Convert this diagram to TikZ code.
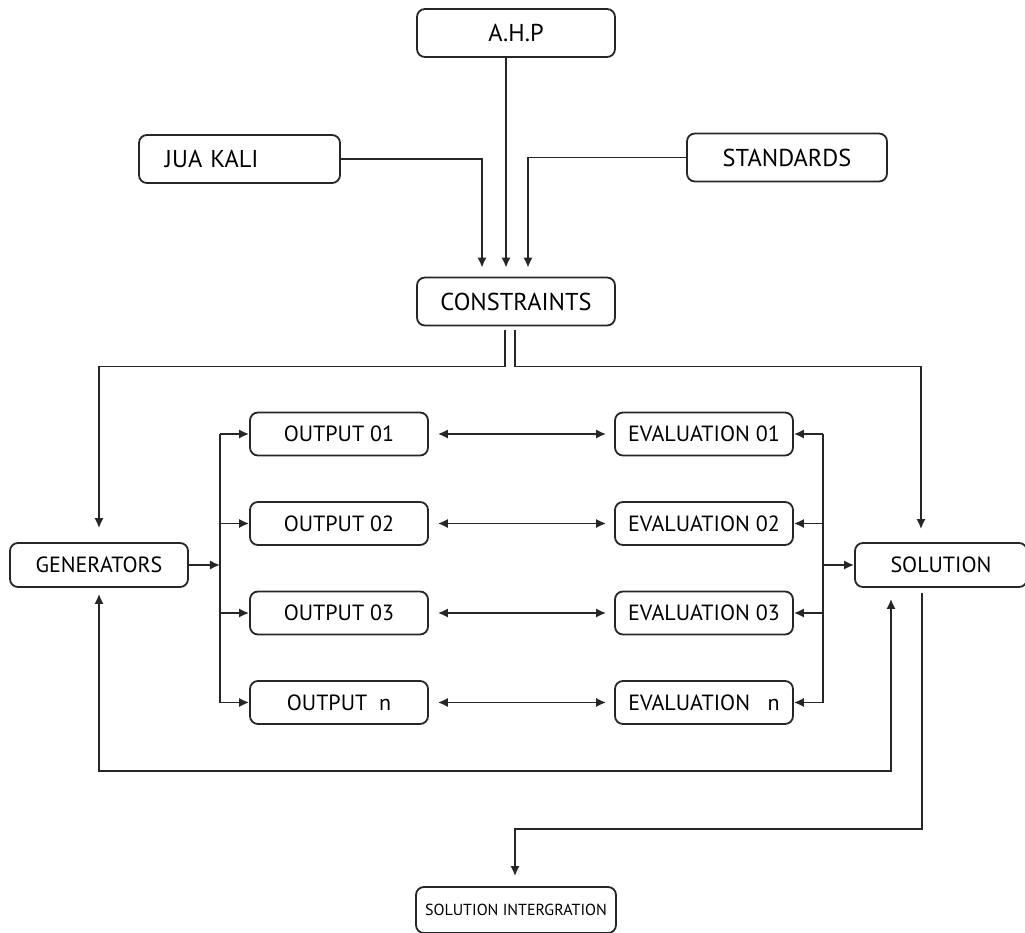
\documentclass[tikz,border=0pt]{standalone}
\usepackage{fontspec}
\setmainfont{PT Sans}
\usepackage{tikz}
\usetikzlibrary{arrows.meta}
\usetikzlibrary{positioning,calc}
\tikzset{
    bigbox/.style={
           rectangle,
           rounded corners=4pt,
           draw=black!85, line width=0.9pt,
           minimum width=99pt,
           minimum height=24pt,
           inner sep=0pt,
           font=\fontsize{12.2}{14}\selectfont,
           text centered,
           },
    midbox/.style={
           bigbox,
           minimum width=89pt,
           minimum height=21.5pt,
           font=\fontsize{11}{13}\selectfont,
           },
    tinybox/.style={
           bigbox,
           minimum width=100pt,
           minimum height=23pt,
           font=\fontsize{8}{9}\selectfont,
           },
}

\begin{document}
\begin{tikzpicture}
[
->,>={Latex[length=5pt,width=4.6pt]},
line width=0.9pt, draw=black!85
]

 % frame of the page
 \clip (-258pt,150.75pt) rectangle (254.5pt,-315.75pt);

 % CONSTRAINTS in the middle, the rest placed from it
 \node[bigbox] (CONS) at (0,0) {CONSTRAINTS};

 \node[bigbox,
 node distance=134.25pt,
 above of=CONS] (AHP)
 {A.H.P};

 \node[bigbox,
 node distance=71.25pt,
 above of=CONS,
 xshift=-138.25pt,
 text width=74.5pt, inner xsep=13pt, align=left] (JUA)
 {JUA KALI};

 \node[bigbox,
 minimum width=100pt,
 node distance=72pt,
 above of=CONS,
 xshift=135.5pt] (STAN)
 {STANDARDS};

 % outputs
 \node[midbox,
 node distance=66.25pt,
 below of=CONS,
 xshift=-88.5pt] (OUT1)
 {OUTPUT 01};
 \node[midbox, node distance=44.75pt, below of=OUT1] (OUT2) {OUTPUT 02};
 \node[midbox, node distance=44.75pt, below of=OUT2] (OUT3) {OUTPUT 03};
 \node[midbox, node distance=44.75pt, below of=OUT3] (OUTN) {OUTPUT\ \ n};

 % evaluations
 \node[midbox, node distance=182.5pt, right of=OUT1] (EVAL1) {EVALUATION 01};
 \node[midbox, node distance=182.5pt, right of=OUT2] (EVAL2) {EVALUATION 02};
 \node[midbox, node distance=182.5pt, right of=OUT3] (EVAL3) {EVALUATION 03};
 \node[midbox, node distance=182.5pt, right of=OUTN] (EVALN) {EVALUATION\ \ \ n};

 \node[midbox,
 minimum height=22pt,
 node distance=131.75pt,
 below of=CONS,
 xshift=-208.5pt] (GEN)
 {GENERATORS};

 \node[midbox,
 minimum width=86pt, minimum height=22pt,
 node distance=131.75pt,
 below of=CONS,
 xshift=212.5pt] (SOL)
 {SOLUTION};

 \node[tinybox,
 node distance=304.25pt,
 below of=CONS] (SOLINT)
 {SOLUTION INTERGRATION};

 % bus lines
 \coordinate (LBUS) at ($(GEN)+(60.5pt,0)$);
 \coordinate (RBUS) at ($(SOL)+(-59pt,0)$);

 % inputs of the constraints
 \draw ([xshift=-5pt]AHP.south) -- ([xshift=-5pt,yshift=4.5pt]CONS.north);
 \draw (JUA.east) -| ([xshift=-17pt,yshift=4.5pt]CONS.north);
 \draw (STAN.west) -| ([xshift=6pt,yshift=4.5pt]CONS.north);

 % constraints to generators and solution
 \draw ([xshift=-5.5pt,yshift=-2pt]CONS.south) -- ++(0,-18pt) -| ([yshift=7pt]GEN.north);
 \draw ([xshift=-0.5pt,yshift=-2pt]CONS.south) -- ++(0,-18pt) -| ([xshift=-10pt,yshift=6.5pt]SOL.north);

 % generators to the outputs
 \draw (GEN.east) -- (LBUS);
 \draw[-] (OUT1.west -| LBUS) -- (OUTN.west -| LBUS);
 \path
 (OUT1.west -| LBUS) edge (OUT1.west)
 (OUT2.west -| LBUS) edge (OUT2.west)
 (OUT3.west -| LBUS) edge (OUT3.west)
 (OUTN.west -| LBUS) edge (OUTN.west)
 ;

 % outputs and evaluations
 \path[<->, shorten <=4.5pt, shorten >=4pt]
 (OUT1) edge (EVAL1)
 (OUT2) edge (EVAL2)
 (OUT3) edge (EVAL3)
 (OUTN) edge (EVALN)
 ;

 % evaluations and solution
 \draw[-] (EVAL1.east -| RBUS) -- (EVALN.east -| RBUS);
 \path
 (EVAL1.east -| RBUS) edge (EVAL1.east)
 (EVAL2.east -| RBUS) edge (EVAL2.east)
 (EVAL3.east -| RBUS) edge (EVAL3.east)
 (EVALN.east -| RBUS) edge (EVALN.east)
 ;
 \draw (RBUS) -- (SOL.west);

 % feedback loop
 \draw[<->] ([yshift=-3pt]GEN.south) -- ++(0,-88.5pt) -| ([xshift=-25pt,yshift=-5.5pt]SOL.south);

 % solution to integration
 \draw ([xshift=-9.5pt,yshift=-2.5pt]SOL.south) -- ++(0,-118pt) -| ([xshift=-0.5pt,yshift=5pt]SOLINT.north);

\end{tikzpicture}
\end{document}
